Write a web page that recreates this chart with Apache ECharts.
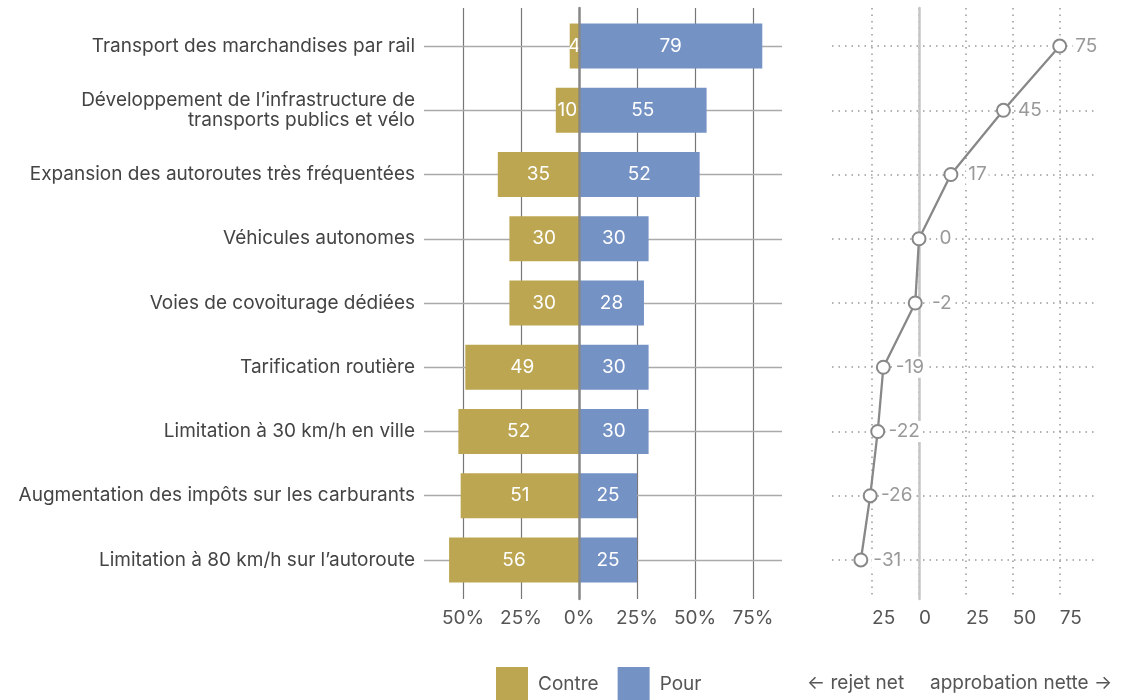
<!DOCTYPE html>
<html>
<head>
<meta charset="utf-8">
<script src="https://cdn.jsdelivr.net/npm/echarts@6/dist/echarts.min.js"></script>
<style>
  html, body { margin: 0; padding: 0; background: #fff; }
  #chart { width: 1122px; height: 700px; }
</style>
</head>
<body>
<div id="chart"></div>
<script>
const categories = [
  'Transport des marchandises par rail',
  'Développement de l’infrastructure de\ntransports publics et vélo',
  'Expansion des autoroutes très fréquentées',
  'Véhicules autonomes',
  'Voies de covoiturage dédiées',
  'Tarification routière',
  'Limitation à 30 km/h en ville',
  'Augmentation des impôts sur les carburants',
  'Limitation à 80 km/h sur l’autoroute'
]
const contre = [4, 10, 35, 30, 30, 49, 52, 51, 56]
const pour = [79, 55, 52, 30, 28, 30, 30, 25, 25]
const net = [75, 45, 17, 0, -2, -19, -22, -26, -31]
const legendLabels = ['Contre', 'Pour']
const noteLeft = '← rejet net'
const noteRight = 'approbation nette →'

const FONT = 'Inter'
const FS = 19
const GOLD = '#BDA651'
const BLUE = '#7592C5'

// left panel: 0% at x=579, 2.32px per point
const barScale = 2.32
const barZero = 579
const barLeft = 424
const barRight = 782
// right panel: 0 at x=919, 1.876px per point
const netScale = 1.876
const netZero = 919
const netLeft = 832
const netRight = 1098

const catTop = 13.9
const catHeight = 578.2
const lineTop = 8
const lineHeight = 591

const chart = echarts.init(document.getElementById('chart'))

chart.setOption({
  animation: false,
  textStyle: { fontFamily: FONT },
  grid: [
    { left: barLeft, width: barRight - barLeft, top: catTop, height: catHeight },
    { left: barZero - 50 * barScale, width: 125 * barScale, top: lineTop, height: lineHeight },
    { left: netLeft, width: netRight - netLeft, top: catTop, height: catHeight },
    { left: netZero - 25 * netScale, width: 100 * netScale, top: lineTop, height: lineHeight }
  ],
  xAxis: [
    {
      gridIndex: 0, type: 'value', show: false,
      min: (barLeft - barZero) / barScale, max: (barRight - barZero) / barScale
    },
    {
      gridIndex: 1, type: 'value', min: -50, max: 75, interval: 25,
      axisLine: { show: false }, axisTick: { show: false },
      splitLine: { show: true, lineStyle: { color: '#777', width: 1.2 } },
      axisLabel: {
        margin: 10, color: '#555', fontSize: FS, fontFamily: FONT,
        formatter: (v) => Math.abs(v) + '%'
      }
    },
    {
      gridIndex: 2, type: 'value', show: false,
      min: (netLeft - netZero) / netScale, max: (netRight - netZero) / netScale
    },
    {
      gridIndex: 3, type: 'value', min: -25, max: 75, interval: 25,
      axisLine: { show: false }, axisTick: { show: false },
      splitLine: { show: true, lineStyle: { color: '#999', width: 1.5, type: [1.5, 5] } },
      axisLabel: {
        margin: 10, color: '#555', fontSize: FS, fontFamily: FONT, align: 'left',
        formatter: (v) => String(Math.abs(v))
      }
    }
  ],
  yAxis: [
    {
      gridIndex: 0, type: 'category', inverse: true, data: categories,
      axisLine: { show: false, onZero: false },
      axisTick: {
        show: true, alignWithLabel: true, inside: true, length: barRight - barLeft,
        lineStyle: { color: '#aaa', width: 1.4 }
      },
      axisLabel: { margin: 9, color: '#444', fontSize: FS, fontFamily: FONT, lineHeight: 20 }
    },
    {
      gridIndex: 1, type: 'value', min: 0, max: 1, z: 5,
      axisLine: { show: true, onZero: true, lineStyle: { color: '#888', width: 2.5 } },
      axisTick: { show: false }, axisLabel: { show: false }, splitLine: { show: false }
    },
    {
      gridIndex: 2, type: 'category', inverse: true, data: categories,
      axisLine: { show: false, onZero: false }, axisLabel: { show: false },
      axisTick: {
        show: true, alignWithLabel: true, inside: true, length: netRight - netLeft,
        lineStyle: { color: '#999', width: 1.5, type: [1.5, 5] }
      }
    },
    {
      gridIndex: 3, type: 'value', min: 0, max: 1,
      axisLine: { show: true, onZero: true, lineStyle: { color: '#c6c6c6', width: 2.5 } },
      axisTick: { show: false }, axisLabel: { show: false }, splitLine: { show: false }
    }
  ],
  legend: {
    data: legendLabels,
    left: 496, top: 667, padding: 0,
    icon: 'rect', itemWidth: 32, itemHeight: 34, itemGap: 19,
    textStyle: { color: '#555', fontSize: FS, fontFamily: FONT, padding: [0, 0, 0, 5] }
  },
  graphic: [
    {
      type: 'text', left: 807, top: 674,
      style: { text: noteLeft, fill: '#555', fontSize: FS, fontFamily: FONT }
    },
    {
      type: 'text', left: 930, top: 674,
      style: { text: noteRight, fill: '#555', fontSize: FS, fontFamily: FONT }
    }
  ],
  series: [
    {
      name: 'Contre', type: 'bar', xAxisIndex: 0, yAxisIndex: 0, stack: 'v',
      barWidth: 45, itemStyle: { color: GOLD },
      data: contre.map((v) => -v),
      label: {
        show: true, position: 'inside', color: '#fff', fontSize: FS, fontFamily: FONT,
        formatter: (p) => Math.abs(p.value)
      }
    },
    {
      name: 'Pour', type: 'bar', xAxisIndex: 0, yAxisIndex: 0, stack: 'v',
      barWidth: 45, itemStyle: { color: BLUE },
      data: pour,
      label: { show: true, position: 'inside', color: '#fff', fontSize: FS, fontFamily: FONT }
    },
    {
      name: 'net', type: 'line', xAxisIndex: 2, yAxisIndex: 2,
      data: net,
      symbol: 'circle', symbolSize: 13,
      lineStyle: { color: '#888', width: 2.3 },
      itemStyle: { color: '#fff', borderColor: '#888', borderWidth: 2 },
      label: {
        show: true, position: 'right', distance: 19, align: 'center',
        color: '#999', fontSize: FS, fontFamily: FONT,
        backgroundColor: '#fff', padding: [1, 2]
      },
      z: 4
    }
  ]
})
</script>
</body>
</html>
